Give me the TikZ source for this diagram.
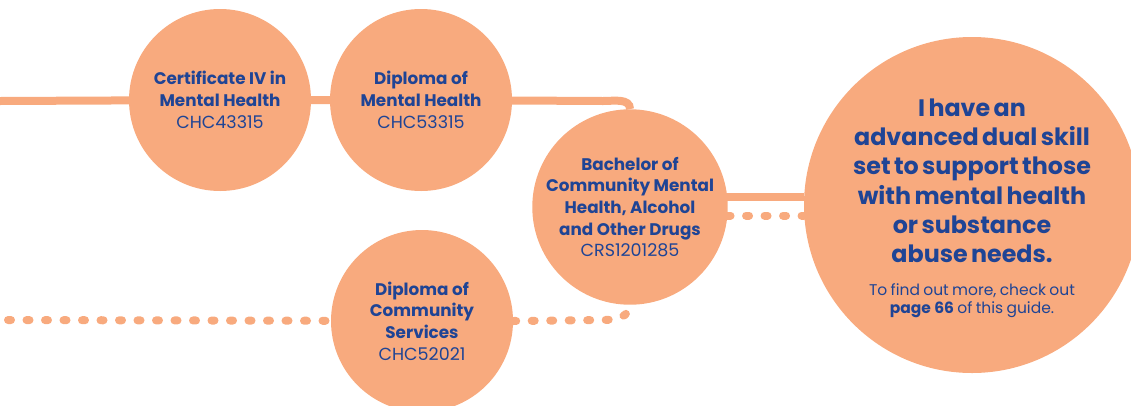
\documentclass[tikz,border=0pt]{standalone}
\usepackage{fontspec}
\setmainfont{Poppins}
\usetikzlibrary{positioning}
\usetikzlibrary{backgrounds}
\definecolor{peach}{HTML}{F8AA7E}
\definecolor{navy}{HTML}{1F4495}

\begin{document}
\begin{tikzpicture}[x=1pt,y=-1pt,
  course/.style={circle, fill=peach, minimum size=182pt, inner sep=0pt, align=center, text=navy, font=\fontsize{16.8}{21.7}\selectfont},
  goalbox/.style={circle, fill=peach, minimum size=336pt, inner sep=-20pt, text width=250pt, align=center, text=navy},
  link/.style={peach, line width=8pt},
  dots/.style={peach, line width=8pt, line cap=round, dash pattern=on 3pt off 15.5pt}]

\useasboundingbox (0,0) rectangle (1131,405);

% the courses
\node[course] (cert) at (220,100) {\textbf{Certificate IV in}\\\textbf{Mental Health}\\\fontsize{17.5}{21.7}\selectfont CHC43315};
\node[course] (dipmh) at (421,100) {\textbf{Diploma of}\\\textbf{Mental Health}\\\fontsize{17.5}{21.7}\selectfont CHC53315};
\node[course] (bach) at (630,207) {\textbf{Bachelor of}\\\textbf{Community Mental}\\\textbf{Health, Alcohol}\\\textbf{and Other Drugs}\\\fontsize{17.5}{21.7}\selectfont CRS1201285};
\node[course] (dipcs) at (422,321) {\textbf{Diploma of}\\\textbf{Community}\\\textbf{Services}\\\fontsize{17.5}{21.7}\selectfont CHC52021};

% the outcome
\node[goalbox] (goal) at (972,205) {\par\vspace*{-5pt}{\fontsize{23.8}{29.2}\selectfont\bfseries I have an\\ advanced dual skill\\ set to support those\\ with mental health\\ or substance\\ abuse needs.\par}
\vspace{15pt}
{\fontsize{15.5}{18}\selectfont To find out more, check out\\ \textbf{page 66} of this guide.\par}};

\coordinate (leftA) at (0,101);
\coordinate (leftB) at (0,320);
\coordinate (bendA) at (603,101);
\coordinate (bendB) at (603,320);

\begin{scope}[on background layer]
\draw[link] (leftA) -- (cert.center) -- (dipmh.center) -- (bendA) to[out=0,in=90] (bach.north);
\draw[link] (bach.6) -- (goal.west |- bach.6);
\draw[dots] (bach.-5) -- (goal.west |- bach.-5);
\draw[dots, dash phase=-8pt] (leftB) -- (dipcs.center);
\draw[dots] (dipcs.east) -- (bendB) to[out=0,in=-90] (bach.south);
\end{scope}

\end{tikzpicture}
\end{document}
